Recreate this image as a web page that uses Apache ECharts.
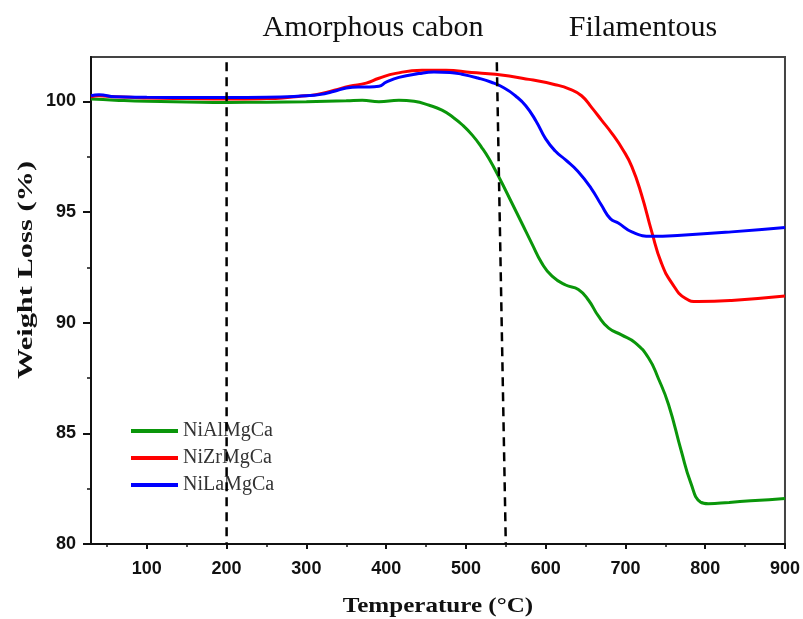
<!DOCTYPE html>
<html>
<head>
<meta charset="utf-8">
<script src="https://cdn.jsdelivr.net/npm/echarts@6.0.0/dist/echarts.min.js"></script>
<style>
html, body { margin: 0; padding: 0; background: #fff; }
#chart { width: 803px; height: 619px; }
</style>
</head>
<body>
<div id="chart"></div>
<script>
// ---- data ----
const seriesNames = ['NiAlMgCa', 'NiZrMgCa', 'NiLaMgCa'];

const alTemp = [30, 60, 100, 150, 200, 250, 300, 350, 370, 391, 416, 435, 454, 470, 483, 495, 508, 520, 529, 541, 557, 570, 583, 595, 608, 625, 641, 654, 666, 679, 695, 712, 729, 741, 754, 770, 782, 794, 804, 830, 857, 880, 900];
const alWeight = [100.1, 100.05, 100.0, 99.97, 99.95, 99.96, 99.98, 100.02, 100.05, 99.98, 100.05, 100.0, 99.82, 99.6, 99.3, 98.95, 98.47, 97.9, 97.4, 96.6, 95.45, 94.5, 93.55, 92.7, 92.1, 91.7, 91.5, 91.0, 90.3, 89.75, 89.45, 89.1, 88.4, 87.5, 86.3, 84.2, 82.75, 81.9, 81.82, 81.88, 81.95, 82.0, 82.05];

const zrTemp = [30, 40, 60, 100, 150, 200, 250, 270, 290, 312, 335, 354, 375, 391, 412, 445, 475, 507, 537, 579, 612, 630, 645, 658, 670, 683, 697, 708, 720, 733, 745, 758, 775, 791, 833, 900];
const zrWeight = [100.2, 100.25, 100.2, 100.15, 100.12, 100.1, 100.12, 100.15, 100.22, 100.3, 100.5, 100.68, 100.82, 101.04, 101.26, 101.4, 101.4, 101.3, 101.22, 100.99, 100.75, 100.55, 100.25, 99.7, 99.15, 98.55, 97.8, 97.05, 95.8, 94.1, 92.7, 91.8, 91.1, 90.95, 91.0, 91.2];

const laTemp = [30, 40, 60, 100, 150, 200, 250, 300, 316, 335, 350, 365, 379, 391, 400, 416, 441, 460, 480, 495, 515, 532, 548, 562, 575, 588, 600, 612, 625, 640, 657, 670, 681, 691, 708, 733, 770, 833, 900];
const laWeight = [100.25, 100.3, 100.2, 100.18, 100.17, 100.17, 100.18, 100.25, 100.3, 100.45, 100.6, 100.65, 100.65, 100.68, 100.86, 101.08, 101.25, 101.32, 101.3, 101.22, 101.05, 100.86, 100.6, 100.25, 99.8, 99.1, 98.3, 97.75, 97.35, 96.85, 96.07, 95.3, 94.7, 94.5, 94.1, 93.9, 93.95, 94.1, 94.3];

const xTickLabels = [100, 200, 300, 400, 500, 600, 700, 800, 900];
const xMinorTicks = [50, 150, 250, 350, 450, 550, 650, 750, 850];
const yTickLabels = [80, 85, 90, 95, 100];
const yMinorTicks = [82.5, 87.5, 92.5, 97.5];

const divider1Temp = [200, 200];
const divider1Weight = [101.76, 80];
const divider2Temp = [538.75, 550];
const divider2Weight = [101.76, 80];

const regionLabels = ['Amorphous cabon', 'Filamentous'];
const xTitle = 'Temperature (°C)';
const yTitle = 'Weight Loss (%)';

// ---- build ----
const zip = (a, b) => a.map((v, i) => [v, b[i]]);
const colors = ['#0a960a', '#ff0000', '#0000ff'];

const chart = echarts.init(document.getElementById('chart'), null, { renderer: 'canvas' });

const tickFont = { fontFamily: 'Liberation Sans', fontWeight: 'bold', fontSize: 18, color: '#111' };

const option = {
  animation: false,
  backgroundColor: '#fff',
  grid: {
    left: 91, right: 17, top: 57, bottom: 75,
    show: true, borderColor: '#444', borderWidth: 2, backgroundColor: 'transparent'
  },
  legend: {
    orient: 'vertical',
    left: 131, top: 421, padding: 0,
    itemWidth: 47, itemHeight: 4, itemGap: 7,
    icon: 'rect',
    data: seriesNames,
    textStyle: { fontFamily: 'Liberation Serif', fontSize: 20, color: '#333' }
  },
  xAxis: [
    {
      type: 'value', min: 30, max: 900, position: 'bottom',
      axisLine: { show: true, lineStyle: { color: '#111', width: 2 } },
      axisTick: { show: true, customValues: xTickLabels, length: 5, lineStyle: { color: '#111', width: 2 } },
      axisLabel: Object.assign({ customValues: xTickLabels, margin: 16 }, tickFont),
      splitLine: { show: false }
    },
    {
      type: 'value', min: 30, max: 900, position: 'bottom',
      axisLine: { show: false },
      axisTick: { show: true, customValues: xMinorTicks, length: 3, lineStyle: { color: '#111', width: 1.5 } },
      axisLabel: { show: false },
      splitLine: { show: false }
    }
  ],
  yAxis: [
    {
      type: 'value', min: 80, max: 102, position: 'left',
      axisLine: { show: true, lineStyle: { color: '#111', width: 2 } },
      axisTick: { show: true, customValues: yTickLabels, length: 8, lineStyle: { color: '#111', width: 2 } },
      axisLabel: Object.assign({ customValues: yTickLabels, margin: 15 }, tickFont),
      splitLine: { show: false }
    },
    {
      type: 'value', min: 80, max: 102, position: 'left',
      axisLine: { show: false },
      axisTick: { show: true, customValues: yMinorTicks, length: 4, lineStyle: { color: '#111', width: 1.5 } },
      axisLabel: { show: false },
      splitLine: { show: false }
    }
  ],
  graphic: [
    { type: 'text', x: 373, y: 28, style: { text: regionLabels[0], font: '30px "Liberation Serif"', fill: '#111', align: 'center', verticalAlign: 'middle' } },
    { type: 'text', x: 643, y: 28, style: { text: regionLabels[1], font: '30px "Liberation Serif"', fill: '#111', align: 'center', verticalAlign: 'middle' } },
    { type: 'text', x: 438, y: 606, scaleX: 1.14, style: { text: xTitle, font: 'bold 22px "Liberation Serif"', fill: '#111', align: 'center', verticalAlign: 'middle' } },
    { type: 'text', x: 27, y: 270, rotation: Math.PI / 2, scaleX: 1.45, style: { text: yTitle, font: 'bold 21px "Liberation Serif"', fill: '#111', align: 'center', verticalAlign: 'middle' } }
  ],
  series: [
    { name: seriesNames[0], type: 'line', smooth: 0.5, symbol: 'none', data: zip(alTemp, alWeight), lineStyle: { color: colors[0], width: 3 }, itemStyle: { color: colors[0] }, z: 3 },
    { name: seriesNames[1], type: 'line', smooth: 0.5, symbol: 'none', data: zip(zrTemp, zrWeight), lineStyle: { color: colors[1], width: 3 }, itemStyle: { color: colors[1] }, z: 3 },
    { name: seriesNames[2], type: 'line', smooth: 0.5, symbol: 'none', data: zip(laTemp, laWeight), lineStyle: { color: colors[2], width: 3 }, itemStyle: { color: colors[2] }, z: 4 },
    { name: 'div1', type: 'line', symbol: 'none', data: zip(divider1Temp, divider1Weight), lineStyle: { color: '#000', width: 2.5, type: [9, 6] }, z: 5, silent: true },
    { name: 'div2', type: 'line', symbol: 'none', data: zip(divider2Temp, divider2Weight), lineStyle: { color: '#000', width: 2.5, type: [9, 6] }, z: 5, silent: true }
  ]
};

chart.setOption(option);
</script>
</body>
</html>
